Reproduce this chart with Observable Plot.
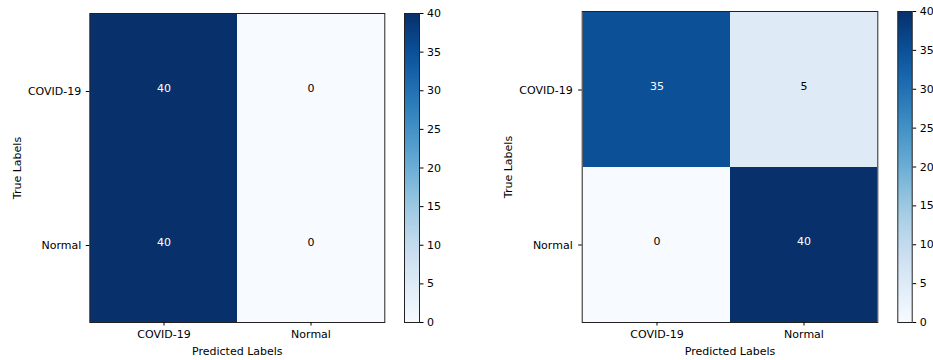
<!DOCTYPE html>
<html><head><meta charset="utf-8">
<script src="https://cdn.jsdelivr.net/npm/d3@7"></script>
<script src="https://cdn.jsdelivr.net/npm/@observablehq/plot@0.6"></script>
<style>
html,body{margin:0;padding:0;background:#fff;}
#wrap{position:relative;width:933px;height:360px;overflow:hidden;}
</style></head><body><div id="wrap"></div>
<script>
const classLabels = ["COVID-19", "Normal"];
const matrixA = [[40, 0], [40, 0]];
const matrixB = [[35, 5], [0, 40]];
const colorTicks = [0, 5, 10, 15, 20, 25, 30, 35, 40];
const colorDomain = [0, 40];
const axisTitleX = "Predicted Labels";
const axisTitleY = "True Labels";

const FS = 11;
const baseStyle = {fontFamily: "'DejaVu Sans', sans-serif", fontSize: FS + "px", color: "#000", background: "transparent", overflow: "visible"};

function cells(m) {
  const out = [];
  m.forEach((row, i) => row.forEach((v, j) => out.push({t: classLabels[i], p: classLabels[j], v})));
  return out;
}

function place(svg, left) {
  svg.style.position = "absolute";
  svg.style.left = left + "px";
  svg.style.top = "0px";
  document.getElementById("wrap").appendChild(svg);
}

function matrixPlot(m, o) {
  const data = cells(m);
  const thresh = d3.max(data, d => d.v) / 2;
  return Plot.plot({
    width: o.width, height: 360,
    marginLeft: o.ml, marginRight: o.mr, marginTop: o.mt, marginBottom: o.mb,
    style: baseStyle,
    x: {type: "band", domain: classLabels, padding: 0, label: null},
    y: {type: "band", domain: classLabels, padding: 0, label: null},
    color: {type: "linear", domain: colorDomain, scheme: "blues"},
    marks: [
      Plot.cell(data, {x: "p", y: "t", fill: "v"}),
      Plot.text(data, {filter: d => d.v > thresh, x: "p", y: "t", text: "v", fill: "white", fontSize: FS, dy: -3.5}),
      Plot.text(data, {filter: d => d.v <= thresh, x: "p", y: "t", text: "v", fill: "black", fontSize: FS, dy: -3.5}),
      Plot.frame({stroke: "#222", strokeWidth: 1}),
      Plot.axisX({tickSize: 3.5, tickPadding: 4, label: null}),
      Plot.axisY({tickSize: 3.5, tickPadding: o.ypad, label: null}),
      Plot.text([axisTitleX], {frameAnchor: "bottom", dy: 29, textAnchor: "middle", lineAnchor: "middle", fontSize: FS, fill: "#000"}),
      Plot.text([axisTitleY], {frameAnchor: "left", dx: o.ydx, rotate: -90, textAnchor: "middle", lineAnchor: "middle", fontSize: FS, fill: "#000"})
    ]
  });
}

function colorbar(o) {
  return Plot.plot({
    width: o.width, height: 360,
    marginLeft: o.ml, marginRight: o.mr, marginTop: o.mt, marginBottom: o.mb,
    style: baseStyle,
    x: {domain: [0, 1], axis: null},
    y: {domain: colorDomain, label: null},
    color: {type: "linear", domain: colorDomain, scheme: "blues"},
    marks: [
      Plot.raster({x1: 0, x2: 1, y1: colorDomain[0], y2: colorDomain[1], width: 1, height: 311, fill: (x, y) => y}),
      Plot.frame({stroke: "#222", strokeWidth: 1}),
      Plot.axisY({anchor: "right", ticks: colorTicks, tickSize: 3.5, tickPadding: 4, label: null})
    ]
  });
}

// Left panel
place(matrixPlot(matrixA, {width: 395, ml: 89.3, mr: 10.7, mt: 13, mb: 38, ypad: 5, ydx: -72}), 0);
place(colorbar({width: 70, ml: 9, mr: 46, mt: 13, mb: 38}), 395);
// Right panel
place(matrixPlot(matrixB, {width: 420, ml: 115.7, mr: 8.7, mt: 11, mb: 38, ypad: 6, ydx: -73.7}), 466);
place(colorbar({width: 47, ml: 11.3, mr: 21.3, mt: 11, mb: 38}), 886);
</script></body></html>
